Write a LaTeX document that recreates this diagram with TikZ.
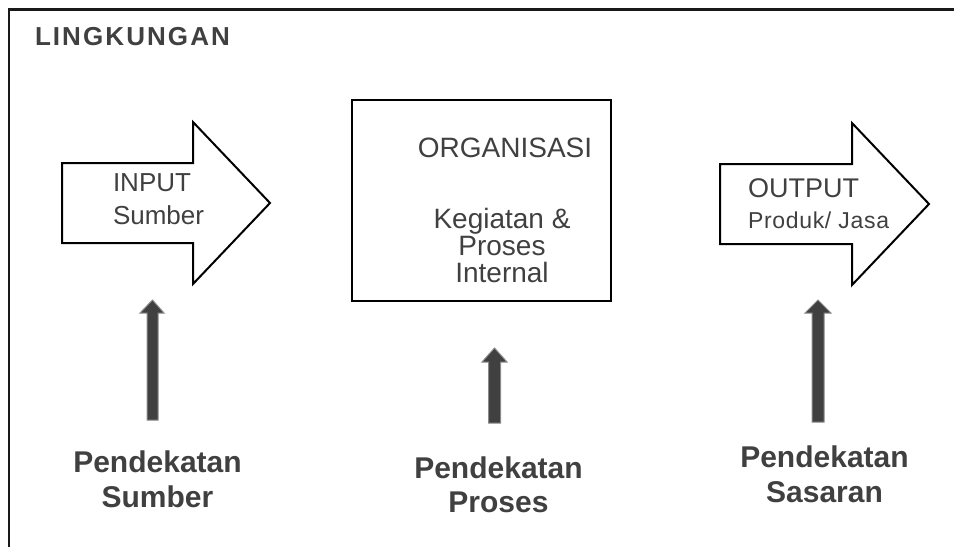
\documentclass[tikz,border=0pt]{standalone}
\usepackage{fontspec}
\setmainfont{Liberation Sans}
\definecolor{txt}{HTML}{404040}
\definecolor{arrfill}{HTML}{404040}
\definecolor{arredge}{HTML}{8A8A8A}
\tikzset{
  lbl/.style={inner sep=0pt, outer sep=0pt, text=txt},
  bigarrow/.style={draw=black, line width=2pt, fill=white, line join=miter},
  uparr/.style={fill=arrfill, draw=arredge, line width=1pt},
  frame/.style={draw=black!90, line width=2.2pt}
}
\begin{document}
\begin{tikzpicture}[x=1pt,y=-1pt]
\useasboundingbox (0,0) rectangle (954,547);
% environment frame
\draw[frame] (9,547) -- (9,9.5) -- (954,9.5);
\node[lbl, anchor=base west, font=\fontsize{26}{31}\selectfont\bfseries\addfontfeature{LetterSpace=8}] (env) at (35,45) {LINGKUNGAN};

% input arrow
\draw[bigarrow] (62,163) -- (193,163) -- (193,122) -- (270,203) -- (193,284) -- (193,243) -- (62,243) -- cycle;
\node[lbl, anchor=base west, font=\fontsize{26}{31}\selectfont] (in1) at (113,191) {INPUT};
\node[lbl, anchor=base west, font=\fontsize{26}{31}\selectfont] (in2) at (113,224) {Sumber};

% organisation box
\node[draw=black, line width=2pt, minimum width=259pt, minimum height=201pt, inner sep=0pt] (org) at (481.5,200.5) {};
\node[lbl, anchor=base, font=\fontsize{28}{33}\selectfont] (o1) at (505,157) {ORGANISASI};
\node[lbl, anchor=base, font=\fontsize{28}{33}\selectfont] (o2) at (502,228) {Kegiatan \&};
\node[lbl, anchor=base, font=\fontsize{28}{33}\selectfont] (o3) at (502,255) {Proses};
\node[lbl, anchor=base, font=\fontsize{28}{33}\selectfont] (o4) at (502,282) {Internal};

% output arrow
\draw[bigarrow] (720,164) -- (852,164) -- (852,123) -- (929,204) -- (852,285) -- (852,244) -- (720,244) -- cycle;
\node[lbl, anchor=base west, font=\fontsize{27}{32}\selectfont] (out1) at (748,197) {OUTPUT};
\node[lbl, anchor=base west, font=\fontsize{23}{28}\selectfont\addfontfeature{LetterSpace=3}] (out2) at (748,228) {Produk/ Jasa};

% vertical approach arrows
\draw[uparr] (147,420) -- (147,313) -- (140,313) -- (152.5,300) -- (164,313) -- (158,313) -- (158,420) -- cycle;
\draw[uparr] (488.5,423) -- (488.5,362) -- (482,362) -- (494.5,348) -- (507,362) -- (500.5,362) -- (500.5,423) -- cycle;
\draw[uparr] (812,422) -- (812,313) -- (805,313) -- (818,300) -- (831,313) -- (824,313) -- (824,422) -- cycle;

% approach labels
\node[lbl, anchor=base, font=\fontsize{30}{35}\selectfont\bfseries] (s1) at (157.5,472) {Pendekatan};
\node[lbl, anchor=base, font=\fontsize{30}{35}\selectfont\bfseries] (s2) at (157.5,507) {Sumber};
\node[lbl, anchor=base, font=\fontsize{30}{35}\selectfont\bfseries] (p1) at (498.5,478) {Pendekatan};
\node[lbl, anchor=base, font=\fontsize{30}{35}\selectfont\bfseries] (p2) at (498.5,512) {Proses};
\node[lbl, anchor=base, font=\fontsize{30}{35}\selectfont\bfseries] (t1) at (824.5,467) {Pendekatan};
\node[lbl, anchor=base, font=\fontsize{30}{35}\selectfont\bfseries] (t2) at (824.5,502) {Sasaran};
\end{tikzpicture}
\end{document}
